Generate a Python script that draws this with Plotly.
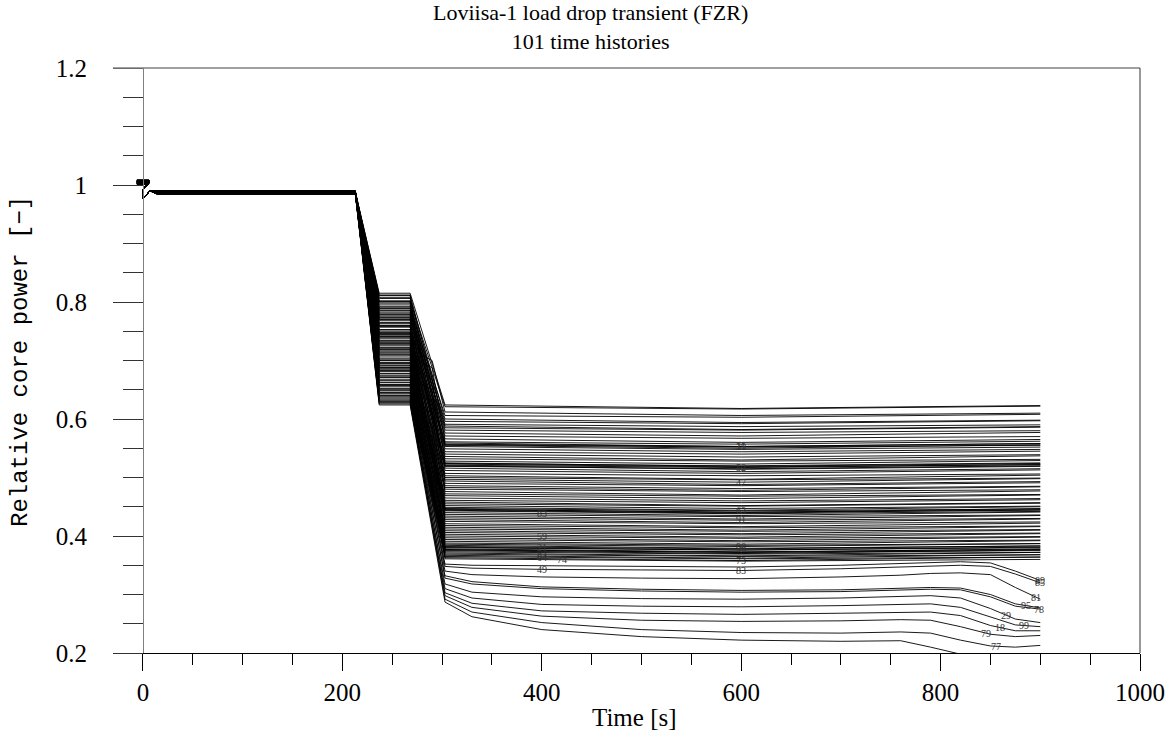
import numpy as np
import plotly.graph_objects as go

# ---------------- data ----------------
# Initial blob (t=-6..6) per-curve level and steady level before the transient
init_level = [1.005, 1.003, 1.007, 1.004, 1.006, 1.002, 1.008, 1.005, 1.004, 1.006,
              1.003, 1.007, 1.005, 1.002, 1.006, 1.004, 1.008, 1.003, 1.005, 1.007,
              1.004, 1.006, 1.002, 1.005, 1.008, 1.003, 1.006, 1.004, 1.007, 1.005,
              1.002, 1.006, 1.004, 1.008, 1.005, 1.003, 1.007, 1.004, 1.006, 1.002,
              1.005, 1.008, 1.003, 1.006, 1.004, 1.007, 1.005, 1.002, 1.006, 1.004,
              1.008, 1.003, 1.005, 1.007, 1.004, 1.006, 1.002, 1.005, 1.008, 1.003,
              1.006, 1.004, 1.007, 1.005, 1.002, 1.006, 1.004, 1.008, 1.005, 1.003,
              1.007, 1.004, 1.006, 1.002, 1.005, 1.008, 1.003, 1.006, 1.004, 1.007,
              1.005, 1.002, 1.006, 1.004, 1.008, 1.003, 1.005, 1.007, 1.004, 1.006,
              1.002, 1.005, 1.008, 1.003, 1.006, 1.004, 1.007, 1.005, 1.002, 1.006,
              1.004]
steady_level = [0.988, 0.986, 0.989, 0.987, 0.985, 0.988, 0.990, 0.986, 0.987, 0.989,
                0.986, 0.988, 0.985, 0.987, 0.989, 0.986, 0.988, 0.990, 0.987, 0.985,
                0.988, 0.986, 0.989, 0.987, 0.988, 0.985, 0.987, 0.989, 0.986, 0.988,
                0.990, 0.987, 0.985, 0.988, 0.986, 0.989, 0.987, 0.988, 0.986, 0.985,
                0.989, 0.987, 0.988, 0.986, 0.990, 0.987, 0.985, 0.988, 0.989, 0.986,
                0.987, 0.988, 0.985, 0.989, 0.986, 0.988, 0.987, 0.990, 0.986, 0.988,
                0.985, 0.987, 0.989, 0.986, 0.988, 0.987, 0.985, 0.989, 0.988, 0.986,
                0.987, 0.990, 0.988, 0.986, 0.985, 0.989, 0.987, 0.988, 0.986, 0.987,
                0.989, 0.985, 0.988, 0.986, 0.987, 0.990, 0.988, 0.986, 0.989, 0.987,
                0.985, 0.988, 0.986, 0.987, 0.989, 0.988, 0.986, 0.985, 0.987, 0.989,
                0.988]
# short dip right after t=0 (shared by all histories)
start_times = [0.0, 0.3, 7.0]
start_dip = [0.992, 0.977, 0.990]

# first load drop: plateau level (t=237..268)
t_drop = [14, 213, 237, 268]
plateau1 = [0.815, 0.802, 0.811, 0.790, 0.806, 0.781, 0.798, 0.770, 0.812, 0.786,
            0.795, 0.774, 0.808, 0.760, 0.789, 0.776, 0.800, 0.752, 0.783, 0.768,
            0.792, 0.757, 0.779, 0.745, 0.801, 0.763, 0.741, 0.786, 0.749, 0.771,
            0.760, 0.737, 0.778, 0.729, 0.753, 0.765, 0.722, 0.744, 0.773, 0.733,
            0.748, 0.716, 0.739, 0.758, 0.711, 0.727, 0.746, 0.703, 0.734, 0.719,
            0.725, 0.700, 0.742, 0.692, 0.714, 0.731, 0.688, 0.709, 0.721, 0.696,
            0.706, 0.683, 0.718, 0.677, 0.695, 0.711, 0.668, 0.689, 0.701, 0.672,
            0.686, 0.662, 0.697, 0.655, 0.678, 0.692, 0.649, 0.671, 0.684, 0.658,
            0.666, 0.645, 0.681, 0.640, 0.659, 0.674, 0.636, 0.652, 0.663, 0.644,
            0.624, 0.630, 0.634, 0.626, 0.641, 0.628, 0.646, 0.632, 0.657, 0.638,
            0.650]

# histories that pause on a short intermediate plateau during the second drop
hook_idx = [2, 13, 24, 38, 43, 52, 62, 72, 82, 85]
hook_t = [277, 290]
hook_start = [0.712, 0.698, 0.681, 0.662, 0.641, 0.622, 0.603, 0.584, 0.563, 0.548]
hook_end = [0.700, 0.688, 0.668, 0.650, 0.632, 0.610, 0.590, 0.572, 0.552, 0.540]

# upper 90 histories after the second drop: levels at t = 303, 600, 900
t_upper = [303, 600, 900]
upper_303 = [0.624, 0.621, 0.612, 0.606, 0.600, 0.596, 0.591, 0.588, 0.585, 0.581,
             0.576, 0.571, 0.566, 0.561, 0.559, 0.557, 0.556, 0.555, 0.553, 0.549,
             0.544, 0.540, 0.536, 0.532, 0.528, 0.525, 0.524, 0.523, 0.521, 0.520,
             0.519, 0.516, 0.512, 0.507, 0.503, 0.500, 0.497, 0.494, 0.490, 0.486,
             0.483, 0.480, 0.476, 0.472, 0.469, 0.465, 0.461, 0.458, 0.455, 0.452,
             0.449, 0.447, 0.446, 0.445, 0.444, 0.443, 0.440, 0.437, 0.434, 0.431,
             0.428, 0.425, 0.421, 0.418, 0.415, 0.412, 0.409, 0.406, 0.403, 0.400,
             0.397, 0.394, 0.391, 0.388, 0.386, 0.384, 0.382, 0.381, 0.380, 0.378,
             0.377, 0.376, 0.375, 0.373, 0.371, 0.369, 0.367, 0.365, 0.363, 0.361]
upper_600 = [0.618, 0.617, 0.606, 0.603, 0.594, 0.592, 0.587, 0.582, 0.581, 0.577,
             0.571, 0.567, 0.560, 0.557, 0.553, 0.553, 0.552, 0.550, 0.548, 0.544,
             0.540, 0.535, 0.530, 0.528, 0.523, 0.519, 0.520, 0.518, 0.517, 0.514,
             0.515, 0.510, 0.507, 0.503, 0.497, 0.496, 0.492, 0.488, 0.486, 0.481,
             0.478, 0.476, 0.470, 0.468, 0.464, 0.460, 0.457, 0.452, 0.451, 0.447,
             0.444, 0.443, 0.440, 0.441, 0.439, 0.438, 0.435, 0.433, 0.429, 0.427,
             0.423, 0.421, 0.416, 0.414, 0.410, 0.408, 0.404, 0.402, 0.398, 0.396,
             0.392, 0.390, 0.386, 0.384, 0.382, 0.379, 0.378, 0.376, 0.376, 0.373,
             0.372, 0.372, 0.370, 0.369, 0.366, 0.365, 0.362, 0.361, 0.358, 0.357]
upper_900 = [0.623, 0.622, 0.610, 0.608, 0.598, 0.597, 0.590, 0.587, 0.586, 0.580,
             0.577, 0.570, 0.565, 0.562, 0.558, 0.558, 0.555, 0.556, 0.552, 0.548,
             0.545, 0.539, 0.537, 0.531, 0.529, 0.524, 0.525, 0.522, 0.522, 0.519,
             0.520, 0.515, 0.513, 0.506, 0.504, 0.499, 0.498, 0.493, 0.491, 0.485,
             0.484, 0.479, 0.477, 0.471, 0.470, 0.464, 0.462, 0.457, 0.456, 0.451,
             0.450, 0.446, 0.447, 0.444, 0.445, 0.442, 0.441, 0.436, 0.435, 0.430,
             0.429, 0.424, 0.422, 0.417, 0.416, 0.411, 0.410, 0.405, 0.404, 0.399,
             0.398, 0.393, 0.392, 0.387, 0.387, 0.383, 0.383, 0.380, 0.381, 0.377,
             0.378, 0.375, 0.376, 0.372, 0.372, 0.368, 0.368, 0.364, 0.364, 0.360]

# lower 11 histories (labelled) after the second drop
t_lower = [303, 330, 400, 500, 600, 700, 760, 790, 820, 850, 875, 900]
lower_ids = ["30", "77", "79", "18", "99", "29", "78", "95", "81", "85", "89"]
lower_30 = [0.287, 0.262, 0.240, 0.228, 0.222, 0.220, 0.221, 0.210, 0.198, 0.192, 0.190, 0.190]
lower_77 = [0.292, 0.270, 0.252, 0.240, 0.235, 0.234, 0.236, 0.234, 0.222, 0.212, 0.210, 0.213]
lower_79 = [0.298, 0.278, 0.263, 0.256, 0.254, 0.255, 0.257, 0.256, 0.245, 0.232, 0.228, 0.230]
lower_18 = [0.303, 0.285, 0.272, 0.268, 0.266, 0.268, 0.270, 0.270, 0.264, 0.247, 0.238, 0.238]
lower_99 = [0.310, 0.294, 0.283, 0.280, 0.279, 0.281, 0.283, 0.284, 0.278, 0.262, 0.248, 0.245]
lower_29 = [0.318, 0.304, 0.296, 0.293, 0.292, 0.294, 0.296, 0.298, 0.294, 0.276, 0.258, 0.252]
lower_78 = [0.328, 0.318, 0.310, 0.306, 0.304, 0.305, 0.307, 0.309, 0.308, 0.296, 0.280, 0.275]
lower_95 = [0.332, 0.322, 0.313, 0.309, 0.307, 0.308, 0.310, 0.312, 0.311, 0.300, 0.284, 0.277]
lower_81 = [0.340, 0.334, 0.330, 0.328, 0.327, 0.330, 0.333, 0.336, 0.337, 0.334, 0.312, 0.292]
lower_85 = [0.348, 0.345, 0.343, 0.342, 0.341, 0.344, 0.347, 0.349, 0.350, 0.348, 0.335, 0.320]
lower_89 = [0.352, 0.350, 0.349, 0.348, 0.347, 0.350, 0.353, 0.355, 0.356, 0.354, 0.340, 0.324]
lower_rows = [lower_30, lower_77, lower_79, lower_18, lower_99, lower_29,
              lower_78, lower_95, lower_81, lower_85, lower_89]
lower_label_t = [835, 856, 846, 860, 884, 866, 899, 886, 896, 900, 900]

# curve-number labels along the histories: text, history index, time
label_text = ["83", "59", "21", "84", "64", "74", "49",
              "39", "11", "52", "47", "63", "91", "98", "96", "73", "83"]
label_idx = [56, 69, 76, 86, 87, 89, 99,
             14, 15, 28, 36, 50, 58, 74, 75, 88, 99]
label_t = [400, 400, 400, 400, 400, 420, 400,
           600, 600, 600, 600, 600, 600, 600, 600, 600, 600]

# ---------------- figure ----------------
serif = "Liberation Serif, Times New Roman, serif"
mono = "Liberation Mono, Courier New, monospace"
L, R, T, B = 113, 1140, 68, 653
W, H = 1176, 747

fig = go.Figure()
curves = []
n_upper = len(upper_303)
for k in range(n_upper + len(lower_rows)):
    t = [-6, 6] + start_times + t_drop
    y = ([init_level[k], init_level[k]] + start_dip
         + [steady_level[k], steady_level[k], plateau1[k], plateau1[k]])
    if k in hook_idx:
        h = hook_idx.index(k)
        t = t + hook_t
        y = y + [hook_start[h], hook_end[h]]
    if k < n_upper:
        t = t + t_upper
        y = y + [upper_303[k], upper_600[k], upper_900[k]]
    else:
        t = t + t_lower
        y = y + lower_rows[k - n_upper]
    curves.append((t, y))
    fig.add_trace(go.Scatter(x=t, y=y, mode="lines",
                             line=dict(color="black", width=0.9),
                             showlegend=False, hoverinfo="skip"))

annotations = []
lab_font = dict(family=serif, size=10, color="#333")


def value_at(idx, tl):
    tt, yy = curves[idx]
    tt = np.asarray(tt)
    yy = np.asarray(yy)
    sel = tt >= 300
    return float(np.interp(tl, tt[sel], yy[sel]))


for txt, idx, tl in zip(label_text, label_idx, label_t):
    annotations.append(dict(x=tl, y=value_at(idx, tl), xref="x", yref="y",
                            text=txt, showarrow=False, font=lab_font))
for j, (txt, tl) in enumerate(zip(lower_ids, lower_label_t)):
    annotations.append(dict(x=tl, y=value_at(n_upper + j, tl), xref="x", yref="y",
                            text=txt, showarrow=False, font=lab_font))


def px_to_paper(px, py):
    return (px - L) / (R - L), (B - py) / (B - T)


for txt, (px, py), fam, size, ang in [
    ("Loviisa-1 load drop transient (FZR)<br>101 time histories", (590, 27), serif, 22, 0),
    ("Time [s]", (634, 717), serif, 25, 0),
    ("Relative core power [−]", (20, 362), mono, 24, -90),
]:
    xp, yp = px_to_paper(px, py)
    annotations.append(dict(x=xp, y=yp, xref="paper", yref="paper", text=txt,
                            showarrow=False, textangle=ang,
                            font=dict(family=fam, size=size, color="black"),
                            xanchor="center", yanchor="middle"))

fig.update_layout(
    width=W, height=H,
    margin=dict(l=L, r=W - R, t=T, b=H - B, pad=0),
    plot_bgcolor="white", paper_bgcolor="white",
    annotations=annotations,
    xaxis=dict(range=[-30, 1000], tickmode="array", tickvals=[0, 200, 400, 600, 800, 1000],
               ticks="outside", ticklen=17, tickcolor="black", tickwidth=1,
               minor=dict(dtick=50, tick0=0, ticks="outside", ticklen=11, tickcolor="black"),
               showline=True, linecolor="black", linewidth=1,
               showgrid=False, zeroline=False,
               tickfont=dict(family=serif, size=25, color="black")),
    yaxis=dict(range=[0.2, 1.2], tickmode="array", tickvals=[0.2, 0.4, 0.6, 0.8, 1.0, 1.2],
               ticktext=["0.2", "0.4", "0.6", "0.8", "1", "1.2"],
               anchor="free", position=30 / (R - L),
               ticks="outside", ticklen=30, tickcolor="#333", tickwidth=1,
               minor=dict(dtick=0.05, tick0=0.2, ticks="outside", ticklen=20, tickcolor="#333"),
               showline=True, linecolor="#808080", linewidth=1,
               showgrid=False, zeroline=False, ticklabelstandoff=21,
               tickfont=dict(family=serif, size=25, color="black")),
    shapes=[
        dict(type="line", xref="paper", yref="paper", x0=0, x1=1, y0=1, y1=1,
             line=dict(color="#808080", width=1.3)),
        dict(type="line", xref="paper", yref="paper", x0=1, x1=1, y0=0, y1=1,
             line=dict(color="#333", width=1)),
    ],
)

fig.write_html("out.html", config={"displayModeBar": False},
               post_script="document.body.style.margin='0px';")
